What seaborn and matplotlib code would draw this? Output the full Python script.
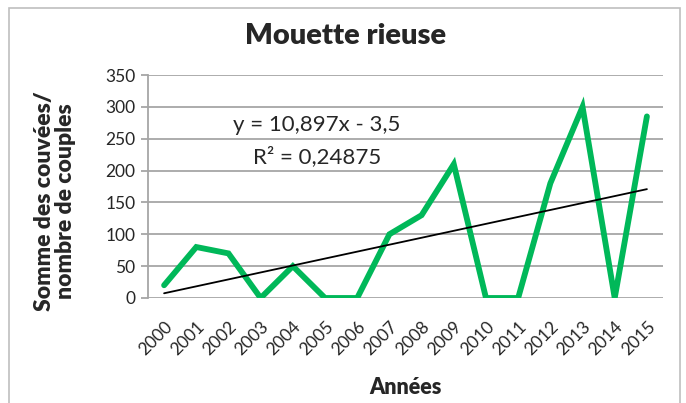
import matplotlib
matplotlib.use("Agg")
import matplotlib.pyplot as plt
import seaborn as sns
import numpy as np
import pandas as pd
from matplotlib.patches import Rectangle

years = ["2000", "2001", "2002", "2003", "2004", "2005", "2006", "2007",
         "2008", "2009", "2010", "2011", "2012", "2013", "2014", "2015"]
values = [20, 80, 70, 0, 50, 0, 0, 100, 130, 210, 0, 0, 180, 300, 0, 285]
trend_slope = 10.897
trend_intercept = -3.5
yticks = [0, 50, 100, 150, 200, 250, 300, 350]

sns.set_theme(style="white")
plt.rcParams['font.family'] = ['Lato', 'DejaVu Sans']

df = pd.DataFrame({"x": np.arange(len(years)), "y": values})
trend = pd.DataFrame({"x": df["x"], "y": trend_slope * (df["x"] + 1) + trend_intercept})

fig = plt.figure(figsize=(6.86, 4.03), dpi=100)
fig.patches.append(Rectangle((9/686, -0.05), (680-9)/686, 1.05 - 8/403,
                             transform=fig.transFigure, fill=False,
                             edgecolor="#BFBFBF", linewidth=1.2))
ax = fig.add_axes([148/686, 1-298/403, (663-148)/686, (298-75)/403])

for t in yticks:
    ax.axhline(t, color="#A6A6A6", linewidth=1.3, zorder=0)

sns.lineplot(data=df, x="x", y="y", ax=ax, color="#00B859", linewidth=4.2,
             solid_joinstyle="miter", zorder=3)
sns.lineplot(data=trend, x="x", y="y", ax=ax, color="black", linewidth=1.3, zorder=4)

ax.set_xlim(-0.5, 15.5)
ax.set_ylim(0, 350)
ax.set_yticks(yticks)
ax.set_yticklabels([str(t) for t in yticks], fontsize=12.5)
ax.set_xticks(np.arange(len(years)))
ax.set_xticklabels(years, rotation=45, ha="right", rotation_mode="anchor", fontsize=12.5)
ax.tick_params(axis="y", length=5, color="#A6A6A6", width=1.3, left=True, pad=4)
ax.tick_params(axis="x", length=0, pad=15)
for s in ["top", "right", "bottom"]:
    ax.spines[s].set_visible(False)
ax.spines["left"].set_color("#A6A6A6")
ax.spines["left"].set_linewidth(1.3)

ax.set_xlabel("Années", fontsize=15.5, fontweight="heavy", labelpad=13)
ax.set_ylabel("")
fig.text(55/686, 1-201/403, "Somme des couvées/\nnombre de couples", fontsize=16.5,
         fontweight="heavy", rotation=90, ha="center", va="center", linespacing=1.05)
fig.text(346/686, 1-36/403, "Mouette rieuse", fontsize=21, fontweight="heavy",
         ha="center", va="center")
ax.text((317-148)/(663-148), (298-125)/(298-75),
        "y = 10,897x - 3,5", transform=ax.transAxes, fontsize=16, ha="center", va="center")
ax.text((317-148)/(663-148), (298-157)/(298-75),
        "R² = 0,24875", transform=ax.transAxes, fontsize=16, ha="center", va="center")

fig.savefig("out.png", dpi=100)
